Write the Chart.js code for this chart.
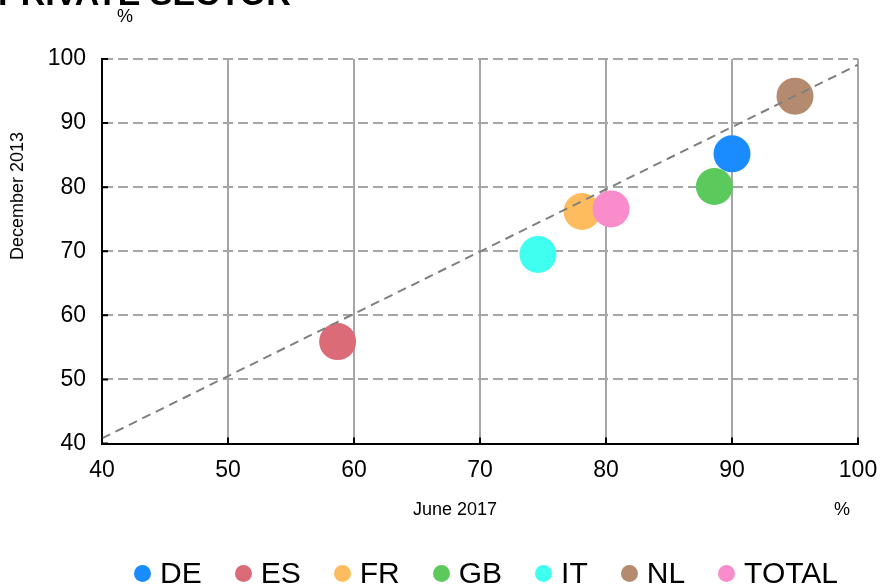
<!DOCTYPE html>
<html>
<head>
<meta charset="utf-8">
<script src="https://cdn.jsdelivr.net/npm/chart.js@4.4.1/dist/chart.umd.min.js"></script>
<style>
  html, body { margin: 0; padding: 0; background: #fff; }
  #wrap { position: relative; width: 881px; height: 587px; overflow: hidden;
          font-family: "Liberation Sans", Arial, sans-serif; color: #000; }
  #wrap canvas { position: absolute; left: 0; top: 0; }
  .lbl { position: absolute; white-space: nowrap; line-height: 1; }
  #title  { left: -2px; top: -24px; font-size: 34px; font-weight: bold; }
  #unitY  { left: 117px; top: 7px; font-size: 18px; }
  #titleX { left: 413px; top: 500px; font-size: 18px; }
  #unitX  { left: 834px; top: 500px; font-size: 18px; }
  #titleY { left: 17px; top: 196px; font-size: 18px;
            transform: translate(-50%, -50%) rotate(-90deg); }
  #legend { position: absolute; left: 134px; top: 558px; display: flex;
            align-items: center; gap: 33px; font-size: 30px; line-height: 1; }
  #legend .item { display: flex; align-items: center; }
  #legend .dot { width: 17px; height: 17px; border-radius: 50%; margin-right: 9px; }
</style>
</head>
<body>
<div id="wrap">
  <canvas id="chart" width="881" height="587"></canvas>
  <div class="lbl" id="title">PRIVATE SECTOR</div>
  <div class="lbl" id="unitY">%</div>
  <div class="lbl" id="titleY">December 2013</div>
  <div class="lbl" id="titleX">June 2017</div>
  <div class="lbl" id="unitX">%</div>
  <div id="legend"></div>
</div>
<script>
// Share of the private sector, by country: June 2017 (x) against December 2013 (y)
const countries = ['DE', 'ES', 'FR', 'GB', 'IT', 'NL', 'TOTAL'];
const june2017  = [90.0, 58.7, 78.1, 88.6, 74.6, 95.0, 80.4];
const dec2013   = [85.2, 55.9, 76.2, 80.1, 69.5, 94.2, 76.6];
const colours   = ['#1a8cff', '#db6b77', '#ffbc5e', '#5bc95b', '#3ffff0', '#b58b70', '#f98dcb'];

// dashed trend line across the full range
const trendX = [40, 100];
const trendY = [40.8, 99.1];

const axisTicks = [40, 50, 60, 70, 80, 90, 100];

const FONT = '"Liberation Sans", Arial, sans-serif';

const pointSets = countries.map((name, i) => ({
  label: name,
  data: [{ x: june2017[i], y: dec2013[i] }],
  backgroundColor: colours[i],
  borderWidth: 0,
  pointRadius: 18.5,
  pointHoverRadius: 18.5,
  order: countries.length - i
}));

const trendSet = {
  label: 'trend',
  type: 'line',
  data: trendX.map((x, i) => ({ x, y: trendY[i] })),
  borderColor: '#808080',
  borderWidth: 2,
  borderDash: [9, 6],
  pointRadius: 0,
  fill: false,
  order: 0
};

// short inward tick marks along both axes
const innerTicks = {
  id: 'innerTicks',
  afterDraw(chart) {
    const { ctx, chartArea: a, scales: { x, y } } = chart;
    ctx.save();
    ctx.strokeStyle = '#000';
    ctx.lineWidth = 2;
    ctx.beginPath();
    axisTicks.forEach(v => {
      const py = y.getPixelForValue(v);
      ctx.moveTo(a.left, py); ctx.lineTo(a.left + 6, py);
      const px = x.getPixelForValue(v);
      ctx.moveTo(px, a.bottom); ctx.lineTo(px, a.bottom - 6);
    });
    ctx.stroke();
    ctx.restore();
  }
};

const hideAt40 = c => (c.tick && c.tick.value === 40) ? 'rgba(0,0,0,0)' : '#a6a6a6';

new Chart(document.getElementById('chart'), {
  type: 'scatter',
  data: { datasets: [trendSet, ...pointSets] },
  options: {
    responsive: false,
    animation: false,
    devicePixelRatio: 1,
    events: [],
    layout: { padding: { top: 59, right: 23, bottom: 0, left: 0 } },
    plugins: { legend: { display: false }, tooltip: { enabled: false } },
    scales: {
      x: {
        type: 'linear', min: 40, max: 100,
        afterBuildTicks: s => { s.ticks = axisTicks.map(v => ({ value: v })); },
        afterFit: s => { s.height = 143.5; s.paddingLeft = 0; s.paddingRight = 0; },
        ticks: { color: '#000', font: { family: FONT, size: 23 }, padding: 13 },
        grid: { color: hideAt40, lineWidth: 2, drawTicks: false },
        border: { color: '#000', width: 2 }
      },
      y: {
        type: 'linear', min: 40, max: 100,
        afterBuildTicks: s => { s.ticks = axisTicks.map(v => ({ value: v })); },
        afterFit: s => { s.width = 102; s.paddingTop = 0; s.paddingBottom = 0; },
        ticks: { color: '#000', font: { family: FONT, size: 23 }, padding: 16 },
        grid: { color: hideAt40, lineWidth: 2, drawTicks: false },
        border: { color: '#000', width: 2, dash: [10, 5] }
      }
    }
  },
  plugins: [innerTicks]
});

// legend row
const legend = document.getElementById('legend');
countries.forEach((name, i) => {
  const item = document.createElement('div');
  item.className = 'item';
  const dot = document.createElement('span');
  dot.className = 'dot';
  dot.style.background = colours[i];
  const txt = document.createElement('span');
  txt.textContent = name;
  item.appendChild(dot);
  item.appendChild(txt);
  legend.appendChild(item);
});
</script>
</body>
</html>
